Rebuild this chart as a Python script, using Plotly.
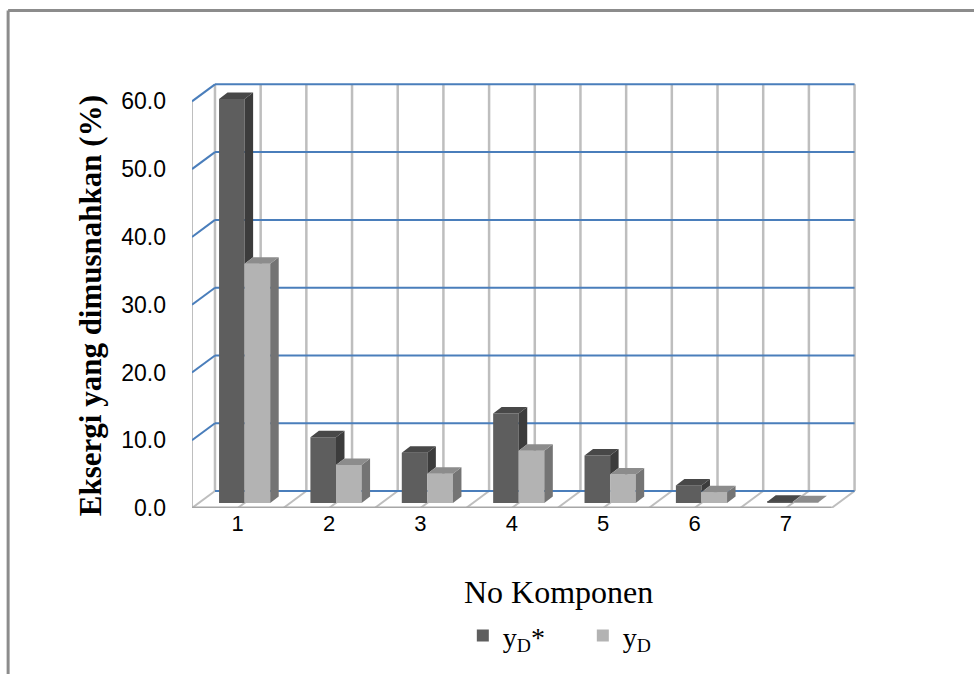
import plotly.graph_objects as go

# ---------------- data ----------------
categories = [1, 2, 3, 4, 5, 6, 7]
category_labels = ["1", "2", "3", "4", "5", "6", "7"]
yD_star = [59.6, 9.7, 7.4, 13.2, 7.0, 2.6, 0.2]   # dark series  (y_D*)
yD = [35.3, 5.6, 4.3, 7.7, 4.2, 1.6, 0.1]        # light series (y_D)
y_ticks = [0, 10, 20, 30, 40, 50, 60]
series_names = ["y<sub>D</sub>*", "y<sub>D</sub>"]

# ---------------- geometry / style ----------------
W, H = 974, 674
PX_X = 91.43          # px per category
PX_Y = 6.783          # px per value unit
X0, X1 = 0.5, 7.8
Y0, Y1 = 0.0, 63.0
LEFT_PX, BOTTOM_PX = 192, 508
plot_w = (X1 - X0) * PX_X
plot_h = (Y1 - Y0) * PX_Y
m_l = LEFT_PX
m_r = W - LEFT_PX - plot_w
m_b = H - BOTTOM_PX
m_t = H - m_b - plot_h

DX, DY = 23 / PX_X, 17 / PX_Y        # depth of the 3-D box
BDX, BDY = 8.5 / PX_X, 6.5 / PX_Y    # depth of each bar
BASE = 5 / PX_Y                      # bar floor (front face bottom)
BW = 0.28
OFFS = [-0.204, 0.076]
YMAX = max(y_ticks)

FRONT = ["#5E5E5E", "#B3B3B3"]
TOP = ["#484848", "#8C8C8C"]
SIDE = ["#3C3C3C", "#747474"]
BLUE = "#4A7EBB"
GRAY = "#BEBEBE"
FLOOR_EDGE = "#A6A6A6"


def px2paper_x(px):
    return (px - m_l) / plot_w


def px2paper_y(py):
    return (H - m_b - py) / plot_h


fig = go.Figure()

# front faces through the bar trace
for s, vals in enumerate([yD_star, yD]):
    fig.add_trace(go.Bar(
        x=categories, y=vals, base=BASE, width=BW, offset=OFFS[s],
        marker=dict(color=FRONT[s], line=dict(width=0)),
        name=series_names[s], hoverinfo="skip",
    ))


def poly_trace(xs, ys, color):
    return go.Scatter(x=xs, y=ys, mode="lines", fill="toself", fillcolor=color,
                      line=dict(width=0, color=color), hoverinfo="skip",
                      showlegend=False)


# top and side faces computed from the data
for s, vals in enumerate([yD_star, yD]):
    sx, sy, tx, ty = [], [], [], []
    for i, c in enumerate(categories):
        v = vals[i]
        xl = c + OFFS[s]
        xr = xl + BW
        top = BASE + v
        low = BASE
        if s == 0:
            low = max(BASE, BASE + yD[i])  # hidden by neighbouring bar below that
        if top > low:
            sx += [xr, xr + BDX, xr + BDX, xr, xr, None]
            sy += [low, low + BDY, top + BDY, top, low, None]
        tx += [xl, xr, xr + BDX, xl + BDX, xl, None]
        ty += [top, top, top + BDY, top + BDY, top, None]
    fig.add_trace(poly_trace(sx, sy, SIDE[s]))
    fig.add_trace(poly_trace(tx, ty, TOP[s]))

# ---------------- 3-D box frame ----------------
shapes = []
xa, xb = categories[0] - 0.5, categories[-1] + 0.5


def seg(x0, y0, x1, y1, color, width):
    shapes.append(dict(type="line", xref="x", yref="y", x0=x0, y0=y0, x1=x1, y1=y1,
                       line=dict(color=color, width=width), layer="below"))


n_half = int(round((xb - xa) / 0.5))
for k in range(n_half + 1):
    xx = xa + k * 0.5
    seg(xx + DX, DY, xx + DX, YMAX + DY, GRAY, 2.5)       # back wall verticals
    seg(xx, 0, xx + DX, DY, GRAY, 2)                      # floor diagonals
seg(xa, 0, xa, YMAX, GRAY, 2)                             # front-left edge
for v in y_ticks:
    if v > 0:
        seg(xa, v, xa + DX, v + DY, BLUE, 2)              # left wall
    seg(xa + DX, v + DY, xb + DX, v + DY, BLUE, 2)        # back wall
seg(xa, 0, xb, 0, FLOOR_EDGE, 3)                          # front floor edge

# outer chart border (top and left)
bx0, by0 = px2paper_x(8), px2paper_y(10)
shapes.append(dict(type="line", xref="paper", yref="paper", x0=bx0, y0=by0,
                   x1=px2paper_x(W + 5), y1=by0, line=dict(color="#8C8C8C", width=3)))
shapes.append(dict(type="line", xref="paper", yref="paper", x0=bx0, y0=by0,
                   x1=bx0, y1=px2paper_y(H + 5), line=dict(color="#8C8C8C", width=3)))

annotations = [
    dict(text="<b>Eksergi yang dimusnahkan (%)</b>", xref="paper", yref="paper",
         x=px2paper_x(90), y=px2paper_y(306), textangle=-90, showarrow=False,
         xanchor="center", yanchor="middle",
         font=dict(family="Liberation Serif", size=31, color="#000000")),
    dict(text="No Komponen", xref="paper", yref="paper",
         x=px2paper_x(559), y=px2paper_y(592), showarrow=False,
         xanchor="center", yanchor="middle",
         font=dict(family="Liberation Serif", size=32, color="#000000")),
]

fig.update_layout(
    width=W, height=H, autosize=False,
    margin=dict(l=m_l, r=m_r, t=m_t, b=m_b, pad=0),
    paper_bgcolor="white", plot_bgcolor="white",
    barmode="overlay", showlegend=True,
    shapes=shapes, annotations=annotations,
    legend=dict(orientation="h", xanchor="left", yanchor="middle",
                x=px2paper_x(463), y=px2paper_y(636),
                font=dict(family="Liberation Serif", size=28, color="#000000"),
                entrywidth=75, entrywidthmode="pixels",
                bgcolor="rgba(0,0,0,0)"),
    xaxis=dict(range=[X0, X1], tickmode="array", tickvals=categories,
               ticktext=category_labels, showgrid=False, zeroline=False,
               showline=False, ticks="", ticklabelstandoff=0, automargin=False,
               tickfont=dict(family="Liberation Sans", size=22, color="#000000")),
    yaxis=dict(range=[Y0, Y1], tickmode="array", tickvals=y_ticks,
               ticktext=[f"{v:.1f}" for v in y_ticks], showgrid=False,
               zeroline=False, showline=False, ticks="", ticklabelstandoff=25,
               automargin=False,
               tickfont=dict(family="Liberation Sans", size=23, color="#000000")),
)

fig.write_html("out.html", config={"displayModeBar": False},
               post_script="document.body.style.margin='0';")
